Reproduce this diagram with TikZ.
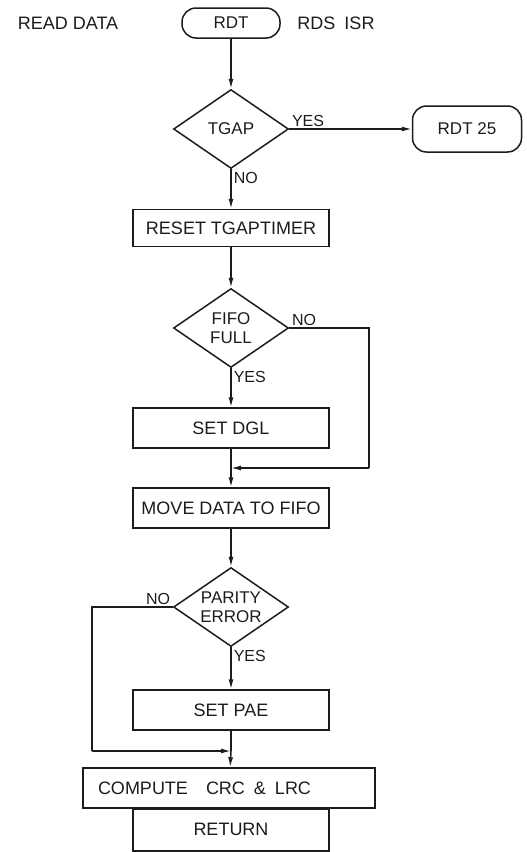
\documentclass[tikz,border=0pt]{standalone}
\usepackage{fontspec}
\setmainfont{Liberation Sans}
\usepackage{tikz}
\usetikzlibrary{shapes.geometric, arrows.meta, positioning}
\definecolor{inkdark}{RGB}{28,28,28}
\tikzset{
  block/.style={rectangle, draw=inkdark, minimum width=196pt,
    minimum height=40pt, inner sep=2pt, text=inkdark,
    font=\fontsize{18}{20}\selectfont, line width=1.5pt},
  decision/.style={diamond, draw=inkdark, aspect=1.46,
    minimum width=115pt, minimum height=79pt, inner sep=0pt,
    align=center, text=inkdark,
    font=\fontsize{17}{19}\selectfont, line width=1.5pt},
  terminal/.style={rectangle, draw=inkdark, rounded corners=14pt,
    minimum width=98pt, minimum height=30pt, text=inkdark,
    font=\fontsize{17}{19}\selectfont, line width=1.5pt},
  arrow/.style={-{Latex[length=10pt,width=5pt]}, line width=1.5pt, color=inkdark},
  line/.style={line width=1.5pt, color=inkdark}
}
\begin{document}
\begin{tikzpicture}[x=1pt, y=-1pt,
  lbl/.style={font=\fontsize{16}{18}\selectfont, text=inkdark, inner sep=2pt}]
\useasboundingbox (0,0) rectangle (527,852);
% entry
\node[lbl, font=\fontsize{18}{20}\selectfont] (readdata) at (68,23) {READ DATA};
\node[terminal] (rdt) at (231,23) {RDT};
\node[lbl, font=\fontsize{18}{20}\selectfont] (rdsisr) at (336,23) {RDS\enspace ISR};
\node[decision] (tgap) at (231,129) {TGAP};
\node[terminal, minimum width=109pt, minimum height=46pt] (rdt25) at (467,129) {RDT 25};
\node[block, minimum height=37pt] (reset) at (231,228) {RESET TGAPTIMER};
% fifo test
\node[decision] (fifo) at (231,328) {FIFO\\FULL};
\node[block] (setdgl) at (231,428) {SET DGL};
\coordinate (j1) at (231,468);
\node[block] (move) at (231,508) {MOVE DATA TO FIFO};
% parity test
\node[decision] (parity) at (231,607) {PARITY\\ERROR};
\node[block] (setpae) at (231,710) {SET PAE};
\coordinate (j2) at (231,751);
\node[block, minimum width=292pt, text width=262pt, inner xsep=15pt, align=left]
  (compute) at (229,788) {COMPUTE\quad CRC\enspace\&\enspace LRC};
\node[block, minimum height=42pt, anchor=north] (return) at (231,808) {RETURN};
% connectors
\draw[arrow] (rdt) -- (tgap);
\draw[arrow] (tgap.east) -- node[lbl, pos=0, above right]{YES} (rdt25.west);
\draw[arrow] (tgap.south) -- node[lbl, pos=0, below right]{NO} (reset.north);
\draw[arrow] (reset) -- (fifo);
\draw[arrow] (fifo.south) -- node[lbl, pos=0, below right]{YES} (setdgl.north);
\draw[line] (fifo.east) node[lbl, above right]{NO} -- (369,328) -- (369,468);
\draw[arrow] (369,468) -- (j1);
\draw[line] (setdgl) -- (j1);
\draw[arrow] (j1) -- (move);
\draw[arrow] (move) -- (parity);
\draw[arrow] (parity.south) -- node[lbl, pos=0, below right]{YES} (setpae.north);
\draw[line] (parity.west) node[lbl, above left]{NO} -- (92,607) -- (92,751);
\draw[arrow] (92,751) -- (j2);
\draw[line] (setpae) -- (j2);
\draw[arrow] (j2) -- (compute);
\end{tikzpicture}
\end{document}
